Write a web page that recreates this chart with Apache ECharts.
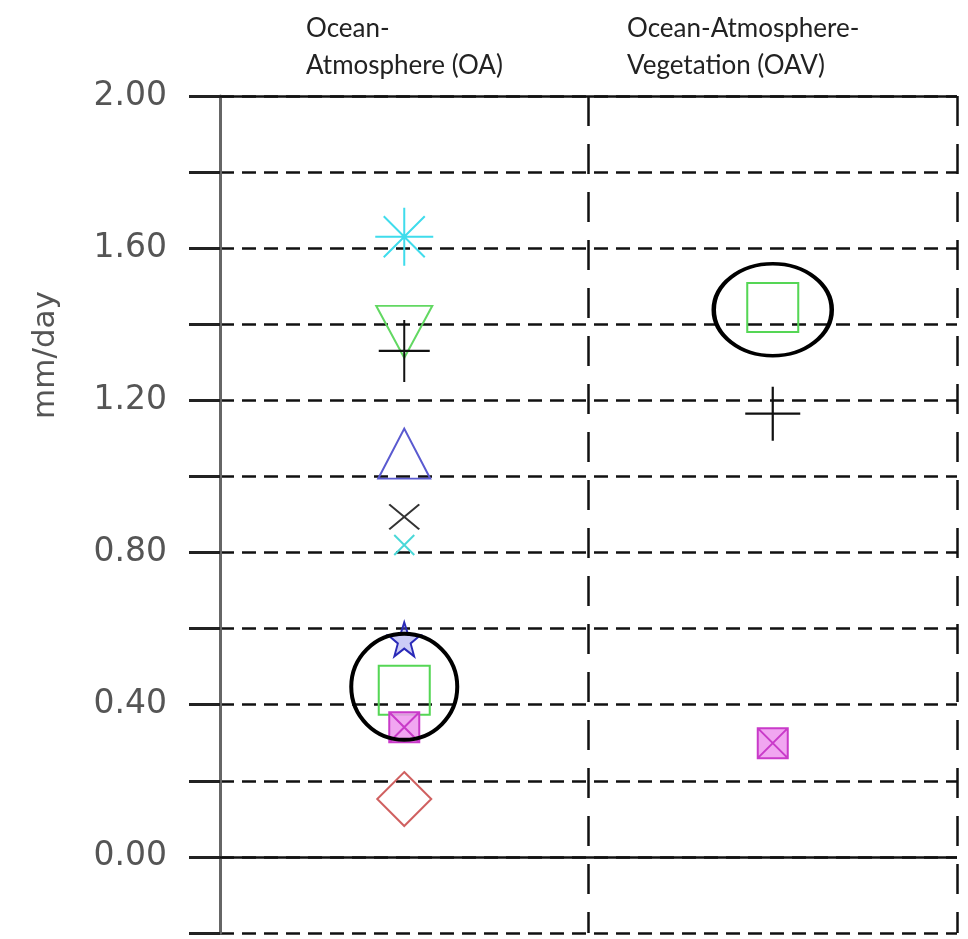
<!DOCTYPE html>
<html>
<head>
<meta charset="utf-8">
<script src="https://cdn.jsdelivr.net/npm/echarts@6/dist/echarts.min.js"></script>
<style>
html,body{margin:0;padding:0;background:#fff;}
#chart{width:968px;height:939px;}
</style>
</head>
<body>
<div id="chart"></div>
<script>
// ---------- data ----------
const categories = ['OA', 'OAV'];
const groupLabels = ['Ocean-\nAtmosphere (OA)', 'Ocean-Atmosphere-\nVegetation (OAV)'];
const yAxisName = 'mm/day';
const yMin = -0.2, yMax = 2.0, yStep = 0.2;

// values per category [OA, OAV] (null = not shown)
const asteriskCyan   = [1.63, null];
const invTriGreen    = [1.38, null];
const plusBlack      = [1.33, 1.165];
const triangleBlue   = [1.06, null];
const crossBlack     = [0.894, null];
const crossCyan      = [0.82, null];
const starBlue       = [0.572, null];
const squareGreen    = [0.438, 1.444];
const boxCrossMagenta= [0.341, 0.299];
const diamondRed     = [0.152, null];
const highlight      = [0.447, 1.438];

// ---------- symbols ----------
const P = {
  asterisk: 'path://M0,-10L0,10M-10,0L10,0M-7.07,-7.07L7.07,7.07M-7.07,7.07L7.07,-7.07',
  plus: 'path://M0,-10L0,10M-10,0L10,0',
  cross: 'path://M-10,-10L10,10M-10,10L10,-10',
  tri: 'path://M0,-10L10,10L-10,10Z',
  invTri: 'path://M-10,-10L10,-10L0,10Z',
  square: 'path://M-10,-10L10,-10L10,10L-10,10Z',
  diamond: 'path://M0,-10L10,0L0,10L-10,0Z',
  star: 'path://M0,-10L2.35,-3.24L9.51,-3.09L3.8,1.24L5.88,8.09L0,4L-5.88,8.09L-3.8,1.24L-9.51,-3.09L-2.35,-3.24Z',
  boxCross: 'path://M-10,-10L10,-10L10,10L-10,10Z M-10,-10L10,10 M10,-10L-10,10',
  ellipse: 'path://M-10,0C-10,-5.52,-5.52,-10,0,-10C5.52,-10,10,-5.52,10,0C10,5.52,5.52,10,0,10C-5.52,10,-10,5.52,-10,0Z'
};

function pts(vals) {
  return vals.map((v, i) => v === null ? null : [categories[i], v]).filter(d => d !== null);
}
function mk(name, vals, symbol, size, stroke, fill, lw, z) {
  return {
    name, type: 'scatter', data: pts(vals), symbol, symbolSize: size,
    z: z || 3, silent: true,
    itemStyle: { color: fill || 'rgba(0,0,0,0)', borderColor: stroke, borderWidth: lw || 2, opacity: 1 }
  };
}

const series = [
  mk('asterisk', asteriskCyan, P.asterisk, [58, 58], '#3fdcec'),
  mk('invTri', invTriGreen, P.invTri, [56, 52], '#62d862'),
  mk('plus', plusBlack, P.plus, (v, p) => p.dataIndex === 0 ? [51, 62] : [55, 54], '#111', null, 2.2),
  mk('triangle', triangleBlue, P.tri, [52, 50], '#5a5ad0'),
  mk('crossBlack', crossBlack, P.cross, [30, 25], '#333'),
  mk('crossCyan', crossCyan, P.cross, [20, 20], '#4ad8d8'),
  mk('star', starBlue, P.star, [32, 34], '#2a2ab8', 'rgba(110,110,230,0.35)'),
  mk('square', squareGreen, P.square, [51, 49], '#55d655'),
  mk('boxCross', boxCrossMagenta, P.boxCross, [30, 30], '#c93ac9', 'rgba(238,150,238,0.85)'),
  mk('diamond', diamondRed, P.diamond, [54, 54], '#d06060'),
  mk('highlight', highlight, P.ellipse, (v, p) => p.dataIndex === 0 ? [106, 106] : [118, 92], '#000', null, 4, 5)
];

// solid reference lines (0.00 and top)
series.push({
  type: 'scatter', data: [], silent: true,
  markLine: {
    silent: true, symbol: 'none', animation: false,
    label: { show: false },
    lineStyle: { type: 'solid', color: '#111', width: 2.5 },
    data: [{ yAxis: 0 }, { yAxis: yMax }]
  }
});

const chart = echarts.init(document.getElementById('chart'), null, { renderer: 'canvas' });
chart.setOption({
  animation: false,
  backgroundColor: '#fff',
  grid: { left: 220, right: 11, top: 96, bottom: 6, containLabel: false },
  xAxis: {
    type: 'category', data: categories, boundaryGap: true,
    axisLine: { show: false }, axisTick: { show: false }, axisLabel: { show: false },
    splitLine: { show: true, interval: 0, lineStyle: { type: [30, 18], color: '#111', width: 2.5 } }
  },
  yAxis: {
    type: 'value', min: yMin, max: yMax, interval: yStep,
    axisLine: { show: true, lineStyle: { color: '#666', width: 3 } },
    axisTick: { show: true, inside: false, length: 31, lineStyle: { color: '#222', width: 3 } },
    axisLabel: {
      margin: 53, fontSize: 33, color: '#555', fontFamily: 'DejaVu Sans',
      formatter: v => (v >= 0 && Math.round(v * 10) % 4 === 0) ? v.toFixed(2) : ''
    },
    splitLine: { show: true, lineStyle: { type: [14, 8], color: '#111', width: 2.5 } }
  },
  graphic: [
    ...groupLabels.map((t, i) => ({
      type: 'text', left: [306, 627][i], top: 10,
      style: { text: t, font: '26px Lato', fill: '#222', lineHeight: 37 }
    })),
    {
      type: 'text', x: 46, y: 355, rotation: Math.PI / 2,
      style: { text: yAxisName, font: '31px "DejaVu Sans"', fill: '#555', align: 'center', verticalAlign: 'middle' }
    }
  ],
  series
});
</script>
</body>
</html>
